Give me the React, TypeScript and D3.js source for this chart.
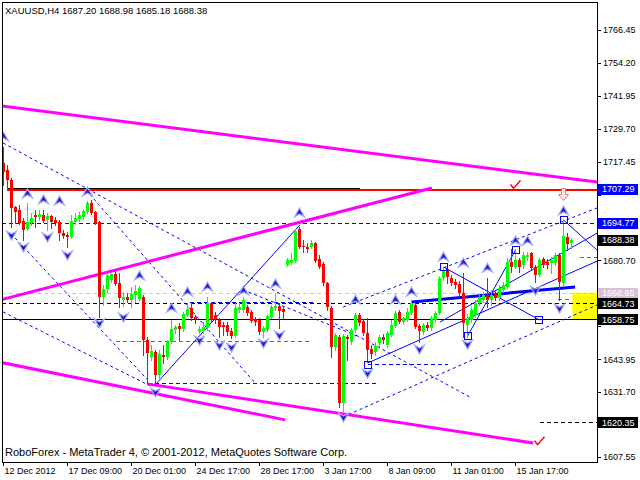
import React from 'react';
import * as d3 from 'd3';

// ---------- DATA (XAUUSD H4) ----------
const opens = [
  1716.9, 1714.3, 1710.6, 1700.6, 1699.4, 1695.3, 1692.4, 1694.6, 1697.5, 1696.8,
  1697.5, 1695.7, 1697.2, 1695.7, 1695.0, 1690.9, 1690.1, 1689.4, 1695.0, 1696.1,
  1696.8, 1698.7, 1702.0, 1698.7, 1695.0, 1667.1, 1670.0, 1673.4, 1675.6, 1672.3,
  1665.9, 1667.1, 1665.9, 1667.8, 1666.3, 1667.1, 1651.0, 1644.7, 1646.6, 1638.0,
  1645.4, 1644.7, 1650.3, 1654.8, 1656.2, 1655.1, 1660.3, 1662.9, 1659.6, 1654.0,
  1654.4, 1655.5, 1664.8, 1660.3, 1658.5, 1656.6, 1656.6, 1654.4, 1652.5, 1662.2,
  1662.2, 1663.3, 1661.5, 1658.9, 1658.5, 1654.0, 1654.8, 1659.6, 1662.9, 1663.7,
  1662.6, 1679.0, 1679.7, 1680.5, 1692.4, 1686.0, 1685.7, 1685.7, 1687.2, 1681.2,
  1679.3, 1672.3, 1662.9, 1648.4, 1652.2, 1627.6, 1652.2, 1650.3, 1654.8, 1660.3,
  1658.1, 1653.6, 1647.7, 1646.6, 1649.9, 1652.2, 1649.2, 1652.9, 1656.2, 1661.5,
  1657.7, 1658.5, 1661.1, 1664.1, 1656.2, 1654.0, 1656.6, 1655.5, 1658.5, 1661.1,
  1674.1, 1677.5, 1674.1, 1672.6, 1671.9, 1668.5, 1656.6, 1658.5, 1660.3, 1664.8,
  1665.9, 1667.8, 1665.9, 1668.5, 1666.7, 1669.7, 1670.8, 1680.1, 1678.2, 1680.8,
  1679.0, 1682.0, 1683.4, 1678.2, 1675.2, 1681.2, 1680.1, 1679.7, 1679.7, 1682.7,
  1672.3, 1689.4, 1687.20,
];
const highs = [
  1722.9, 1716.2, 1711.4, 1700.9, 1701.3, 1696.5, 1702.0, 1698.3, 1699.4, 1699.4,
  1699.4, 1698.3, 1697.5, 1696.8, 1695.7, 1692.0, 1691.2, 1697.5, 1698.3, 1698.7,
  1699.8, 1702.8, 1703.2, 1699.1, 1695.3, 1671.5, 1676.0, 1676.4, 1677.1, 1676.0,
  1668.9, 1668.5, 1670.8, 1671.5, 1671.2, 1667.8, 1652.2, 1649.2, 1647.3, 1647.3,
  1649.2, 1651.0, 1658.5, 1656.6, 1657.4, 1661.5, 1664.8, 1664.8, 1660.3, 1656.2,
  1657.7, 1667.1, 1665.2, 1661.5, 1659.2, 1657.7, 1657.7, 1655.5, 1664.8, 1664.8,
  1667.1, 1664.1, 1662.2, 1659.6, 1659.2, 1656.2, 1660.3, 1664.1, 1668.2, 1664.8,
  1663.3, 1681.6, 1683.4, 1692.4, 1693.1, 1688.3, 1687.2, 1688.3, 1687.5, 1682.7,
  1680.1, 1672.6, 1663.7, 1653.6, 1652.9, 1653.3, 1652.9, 1655.5, 1661.1, 1661.1,
  1658.9, 1659.2, 1649.2, 1650.3, 1652.9, 1653.3, 1654.4, 1658.5, 1661.8, 1662.2,
  1659.6, 1662.9, 1665.9, 1664.8, 1657.0, 1657.4, 1657.7, 1660.0, 1661.8, 1674.9,
  1678.6, 1678.2, 1675.2, 1673.7, 1673.0, 1676.0, 1660.7, 1663.3, 1665.9, 1668.2,
  1668.9, 1674.1, 1669.7, 1669.7, 1671.5, 1672.6, 1681.6, 1684.9, 1684.9, 1681.6,
  1683.8, 1683.8, 1683.8, 1679.0, 1681.6, 1681.9, 1681.2, 1681.9, 1683.4, 1683.4,
  1695.7, 1690.9, 1688.98,
];
const lows = [
  1708.7, 1706.9, 1693.1, 1694.6, 1694.2, 1688.3, 1692.0, 1693.9, 1693.1, 1695.7,
  1695.0, 1692.0, 1692.7, 1693.9, 1688.3, 1689.0, 1685.7, 1689.0, 1694.2, 1695.3,
  1696.1, 1698.3, 1698.0, 1694.2, 1659.6, 1664.1, 1668.9, 1672.6, 1671.5, 1663.3,
  1663.7, 1665.2, 1663.3, 1665.2, 1665.9, 1645.4, 1635.0, 1643.6, 1634.3, 1636.9,
  1642.5, 1644.0, 1649.9, 1653.6, 1651.0, 1654.4, 1660.0, 1658.5, 1657.4, 1653.6,
  1653.6, 1654.8, 1657.7, 1657.4, 1652.2, 1652.9, 1652.9, 1651.8, 1652.2, 1661.5,
  1661.5, 1660.3, 1657.7, 1656.6, 1653.3, 1652.2, 1654.4, 1659.2, 1662.2, 1655.5,
  1659.2, 1678.6, 1679.3, 1680.1, 1685.3, 1683.8, 1683.8, 1685.3, 1680.1, 1677.9,
  1671.5, 1662.2, 1644.7, 1647.3, 1626.1, 1624.2, 1643.6, 1649.6, 1654.0, 1656.6,
  1652.9, 1642.9, 1644.3, 1645.4, 1648.8, 1649.9, 1648.4, 1652.5, 1655.9, 1657.4,
  1657.0, 1658.1, 1660.7, 1655.5, 1650.3, 1653.3, 1654.8, 1654.8, 1657.7, 1660.7,
  1673.4, 1672.3, 1671.5, 1670.4, 1667.8, 1652.2, 1652.2, 1657.7, 1659.6, 1664.1,
  1665.2, 1663.3, 1664.1, 1665.9, 1665.9, 1668.9, 1670.4, 1676.4, 1677.9, 1676.4,
  1677.9, 1680.8, 1677.1, 1672.6, 1674.9, 1678.2, 1677.9, 1676.0, 1679.0, 1665.9,
  1671.2, 1684.5, 1685.18,
];
const closes = [
  1713.6, 1710.6, 1700.2, 1698.7, 1694.6, 1692.0, 1695.0, 1696.5, 1696.8, 1698.0,
  1695.3, 1697.2, 1695.0, 1694.6, 1690.9, 1689.8, 1689.4, 1695.3, 1696.5, 1697.6,
  1699.1, 1702.0, 1698.3, 1694.6, 1667.1, 1670.0, 1675.2, 1675.6, 1671.9, 1666.7,
  1667.1, 1665.9, 1668.2, 1669.3, 1670.4, 1651.0, 1646.2, 1646.9, 1638.0, 1645.8,
  1644.7, 1650.3, 1655.1, 1655.9, 1655.1, 1660.7, 1662.6, 1659.2, 1658.9, 1655.1,
  1655.9, 1664.8, 1658.5, 1658.9, 1655.9, 1655.9, 1654.0, 1652.5, 1662.9, 1663.3,
  1665.9, 1661.1, 1658.1, 1657.7, 1654.0, 1655.5, 1660.0, 1663.3, 1663.7, 1661.8,
  1661.5, 1680.8, 1680.8, 1691.6, 1685.7, 1685.7, 1684.9, 1687.2, 1680.5, 1678.2,
  1672.3, 1663.3, 1648.4, 1652.9, 1627.6, 1652.5, 1651.4, 1654.8, 1660.3, 1657.4,
  1653.6, 1647.3, 1645.8, 1648.8, 1652.2, 1651.0, 1653.6, 1656.6, 1661.1, 1657.7,
  1659.2, 1661.5, 1664.8, 1655.9, 1654.4, 1656.6, 1655.5, 1659.2, 1661.1, 1674.1,
  1677.1, 1674.5, 1672.3, 1671.5, 1668.5, 1657.4, 1659.2, 1662.2, 1664.8, 1667.1,
  1667.8, 1665.9, 1667.8, 1666.7, 1670.4, 1671.5, 1680.1, 1678.2, 1680.8, 1678.2,
  1682.7, 1682.7, 1677.9, 1675.2, 1680.8, 1679.0, 1679.0, 1680.8, 1682.7, 1672.6,
  1689.8, 1686.8, 1688.38,
];

const timeLabels = ['12 Dec 2012', '17 Dec 09:00', '20 Dec 01:00', '24 Dec 17:00', '28 Dec 17:00', '3 Jan 17:00', '8 Jan 09:00', '11 Jan 01:00', '15 Jan 17:00'];
const timeLabelBars = [0, 16, 32, 48, 64, 80, 96, 112, 128];
const priceTicks = [1766.45, 1754.20, 1741.95, 1729.70, 1717.45, 1705.20, 1692.95, 1680.70, 1668.45, 1656.20, 1643.95, 1631.70, 1619.45, 1607.55];

const markerPrices = [1707.29, 1694.77, 1688.38, 1668.65, 1664.73, 1658.75, 1620.35];
const markerColors = ['#0000ff', '#0000ff', '#000000', '#d8bfd8', '#000000', '#000000', '#000000'];

// fractal arrows: [bar, price]
const upFractals = [
  [0, 1726.6], [6, 1705.4], [10, 1703.2], [14, 1702.8], [21, 1706.1], [34, 1674.9], [42, 1662.9],
  [46, 1668.9], [51, 1670.8], [60, 1669.3], [68, 1671.9], [74, 1698.3], [88, 1665.9], [98, 1665.9],
  [102, 1668.9], [110, 1681.9], [115, 1679.7], [121, 1677.8], [128, 1687.9], [131, 1687.9], [140, 1699.1],
];
const downFractals = [
  [2, 1690.1], [5, 1685.7], [11, 1689.4], [16, 1682.7], [24, 1657.4], [30, 1659.6], [38, 1631.7],
  [49, 1651.0], [54, 1649.2], [57, 1648.4], [65, 1649.9], [69, 1652.9], [85, 1622.4], [91, 1638.7],
  [104, 1647.7], [116, 1649.5], [133, 1669.6], [139, 1662.9],
];
// square anchors [bar, price]
const squareAnchors = [[91, 1641.7], [110, 1678.2], [116, 1652.5], [128, 1684.5], [134, 1658.5], [140, 1695.7]];

// trend lines [bar1, price1, bar2, price2]
const magentaTrend = [
  [-1, 1738.3, 148.5, 1709.8],
  [-1, 1665.9, 107.1, 1707.6],
  [-1, 1642.8, 70.4, 1621.3],
  [35.9, 1634.7, 132.4, 1612.7],
];
const blueSolidTrend = [
  [37.9, 1634.3, 74.1, 1693.9],
  [91.1, 1642.5, 148.4, 1680.4],
  [110, 1678.2, 134, 1658.5],
  [116, 1652.5, 128, 1684.5],
  [140, 1695.7, 148.4, 1684.5],
  [109.1, 1657.7, 148.4, 1690.8],
];
const blueThickTrend = [[102.1, 1665.2, 142.9, 1670.8]];
const blueDashTrend = [
  [-0.1, 1724.4, 116.6, 1629.8],
  [20.6, 1706.9, 62.9, 1635.0],
  [2.9, 1689.0, 36.1, 1636.1],
  [-0.1, 1661.5, 36.6, 1634.0],
  [59.9, 1669.7, 89.1, 1652.1],
  [84.9, 1622.4, 148.4, 1664.1],
  [84.9, 1663.3, 148.4, 1700.2],
];
const blackLevelSegs = [[1, 89, 1707.8]];

// horizontal levels
const fullDashBlue = [1694.77];
const fullDashLavender = [1668.65];
const fullDashBlack = [1664.73];
const fullSolidBlack = [1658.75];
const redLevels = [1707.29];
// partial dashed segments [bar1, bar2, price]
const partialBlueDash = [[36, 93, 1635.0], [91, 111, 1642.1], [46.6, 77.4, 1665.0]];
const partialMagentaDash = [[28, 77, 1650.7], [144, 149, 1682.0], [138.6, 142.1, 1666.3]];
const partialBlackDash = [[134, 149, 1620.35]];
const zoneBox = [142.2, 149, 1668.65, 1658.75];
const checkMarks = [[134, 1613.2], [128, 1708.6]];
const downSignal = [[140, 1705.2]];

// ---------- SCALES ----------
const x = d3.scaleLinear().domain([0, 142]).range([3.5, 571.5]);
const y = d3.scaleLinear().domain([1605.62, 1776.87]).range([462, 2]);
const PL = 2, PR = 597, PT = 2, PB = 462;
const FONT = "'Liberation Sans', Arial, sans-serif";
const hy = (p: number) => Math.round(y(p)) + 0.5;

// axis labels that are not hidden by a price marker box
const visibleTicks = priceTicks.filter((t) => markerPrices.every((m) => Math.abs(y(t) - y(m)) > 11));

const upPath = (cx: number, cy: number) => `M${cx},${cy - 5}L${cx + 5},${cy + 4}L${cx},${cy + 1}L${cx - 5},${cy + 4}Z`;
const downPath = (cx: number, cy: number) => `M${cx},${cy + 5}L${cx + 5},${cy - 4}L${cx},${cy - 1}L${cx - 5},${cy - 4}Z`;

export default function App() {
  const seg = (s: number[], key: string, stroke: string, sw: number, dash?: string) => (
    <line key={key} x1={x(s[0])} y1={y(s[1])} x2={x(s[2])} y2={y(s[3])} stroke={stroke} strokeWidth={sw} strokeDasharray={dash} />
  );
  const hline = (p: number, key: string, stroke: string, sw: number, dash?: string, x1 = PL, x2 = PR) => (
    <line key={key} x1={x1} x2={x2} y1={hy(p)} y2={hy(p)} stroke={stroke} strokeWidth={sw} strokeDasharray={dash} shapeRendering="crispEdges" />
  );
  return (
    <svg width={640} height={480} style={{ position: 'fixed', left: 0, top: 0, background: '#fff' }} fontFamily={FONT}>
      <defs>
        <clipPath id="plotClip"><rect x={PL} y={PT} width={PR - PL} height={PB - PT} /></clipPath>
      </defs>
      <rect x={0} y={0} width={640} height={480} fill="#fff" />
      <g clipPath="url(#plotClip)">
        <rect x={x(zoneBox[0])} y={y(zoneBox[2])} width={x(zoneBox[1]) - x(zoneBox[0])} height={y(zoneBox[3]) - y(zoneBox[2])} fill="#ffff00" />
        {fullDashBlue.map((p, i) => hline(p, 'fb' + i, '#0000ff', 1, '4,3'))}
        {fullDashLavender.map((p, i) => hline(p, 'fl' + i, '#d8bfd8', 1, '4,3'))}
        {fullDashBlack.map((p, i) => hline(p, 'fk' + i, '#000', 1, '4,3'))}
        {fullSolidBlack.map((p, i) => hline(p, 'fs' + i, '#000', 1))}
        {partialBlueDash.map((s, i) => hline(s[2], 'pb' + i, '#0000ff', 1, '4,3', x(s[0]), x(s[1])))}
        {partialMagentaDash.map((s, i) => hline(s[2], 'pm' + i, '#ff00ff', 1, '4,3', x(s[0]), x(s[1])))}
        {partialBlackDash.map((s, i) => hline(s[2], 'pk' + i, '#000', 1, '4,3', x(s[0]), x(s[1])))}
        {blueDashTrend.map((s, i) => seg(s, 'bd' + i, '#0000ff', 1, '3,3'))}
        {blueSolidTrend.map((s, i) => seg(s, 'bs' + i, '#0000ff', 1))}
        {blueThickTrend.map((s, i) => seg(s, 'bt' + i, '#0000ff', 3))}
        {redLevels.map((p, i) => (
          <line key={'rl' + i} x1={PL + 6} x2={PR} y1={Math.round(y(p)) + 1} y2={Math.round(y(p)) + 1} stroke="#ff0000" strokeWidth={2} shapeRendering="crispEdges" />
        ))}
        {blackLevelSegs.map((s, i) => (
          <line key={'bk' + i} x1={x(s[0])} x2={x(s[1])} y1={Math.round(y(s[2])) + 0.5} y2={Math.round(y(s[2])) + 0.5} stroke="#000" strokeWidth={1} shapeRendering="crispEdges" />
        ))}
        {magentaTrend.map((s, i) => seg(s, 'mg' + i, '#ff00ff', 3))}
        {opens.map((o, i) => {
          const c = closes[i];
          const up = c >= o;
          const col = up ? '#00ff00' : '#ff0000';
          const cx = x(i);
          const top = Math.round(y(Math.max(o, c)));
          const bot = Math.round(y(Math.min(o, c)));
          return (
            <g key={'c' + i} shapeRendering="crispEdges">
              <line x1={cx} x2={cx} y1={Math.round(y(highs[i]))} y2={Math.round(y(lows[i])) + 1} stroke={col} strokeWidth={1} />
              <rect x={cx - 1.5} y={top} width={3} height={Math.max(1, bot - top)} fill={col} />
            </g>
          );
        })}
        {squareAnchors.map((s, i) => (
          <rect key={'sq' + i} x={Math.round(x(s[0])) - 3.5} y={Math.round(y(s[1])) - 3.5} width={7} height={7} fill="none" stroke="#0000ff" strokeWidth={1} shapeRendering="crispEdges" />
        ))}
        {upFractals.map((f, i) => (
          <path key={'uf' + i} d={upPath(x(f[0]), y(f[1]))} fill="#1c1cc8" stroke="#a8a8ff" strokeWidth={1.2} />
        ))}
        {downFractals.map((f, i) => (
          <path key={'df' + i} d={downPath(x(f[0]), y(f[1]))} fill="#1c1cc8" stroke="#a8a8ff" strokeWidth={1.2} />
        ))}
        {checkMarks.map((c, i) => {
          const cx = x(c[0]), cy = y(c[1]);
          return <polyline key={'ck' + i} points={`${cx - 5},${cy - 1} ${cx - 2},${cy + 3} ${cx + 5},${cy - 5}`} fill="none" stroke="#ff0000" strokeWidth={1.5} />;
        })}
        {downSignal.map((d, i) => {
          const cx = x(d[0]), cy = y(d[1]);
          return <path key={'ds' + i} d={`M${cx - 2},${cy - 6}L${cx + 2},${cy - 6}L${cx + 2},${cy}L${cx + 5},${cy}L${cx},${cy + 6}L${cx - 5},${cy}L${cx - 2},${cy}Z`} fill="#fff0f0" stroke="#ff6a6a" strokeWidth={1} />;
        })}
      </g>
      {/* frame */}
      <rect x={PL + 0.5} y={PT + 0.5} width={PR - PL} height={PB - PT} fill="none" stroke="#000" strokeWidth={1} shapeRendering="crispEdges" />
      {/* price axis */}
      {priceTicks.map((p, i) => (
        <line key={'ptk' + i} x1={PR} x2={PR + 4} y1={hy(p)} y2={hy(p)} stroke="#000" shapeRendering="crispEdges" />
      ))}
      {visibleTicks.map((p, i) => (
        <text key={'pt' + i} x={603} y={y(p) + 3.5} fontSize={9} fill="#000">{p.toFixed(2)}</text>
      ))}
      {markerPrices.map((p, i) => (
        <g key={'mk' + i}>
          <rect x={598} y={Math.round(y(p)) - 5} width={40} height={11} fill={markerColors[i]} shapeRendering="crispEdges" />
          <text x={602} y={y(p) + 3.5} fontSize={9} fill="#fff">{p.toFixed(2)}</text>
        </g>
      ))}
      {/* time axis */}
      {timeLabels.map((t, i) => (
        <g key={'tl' + i}>
          <line x1={Math.round(x(timeLabelBars[i])) - 0.5} x2={Math.round(x(timeLabelBars[i])) - 0.5} y1={PB} y2={PB + 4} stroke="#000" shapeRendering="crispEdges" />
          <text x={x(timeLabelBars[i]) + 1} y={474} fontSize={9} fill="#000">{t}</text>
        </g>
      ))}
      <text x={5} y={13.5} fontSize={9.5} fill="#000">XAUUSD,H4  1687.20 1688.98 1685.18 1688.38</text>
      <text x={5} y={456} fontSize={11} fill="#000">RoboForex - MetaTrader 4, © 2001-2012, MetaQuotes Software Corp.</text>
    </svg>
  );
}
